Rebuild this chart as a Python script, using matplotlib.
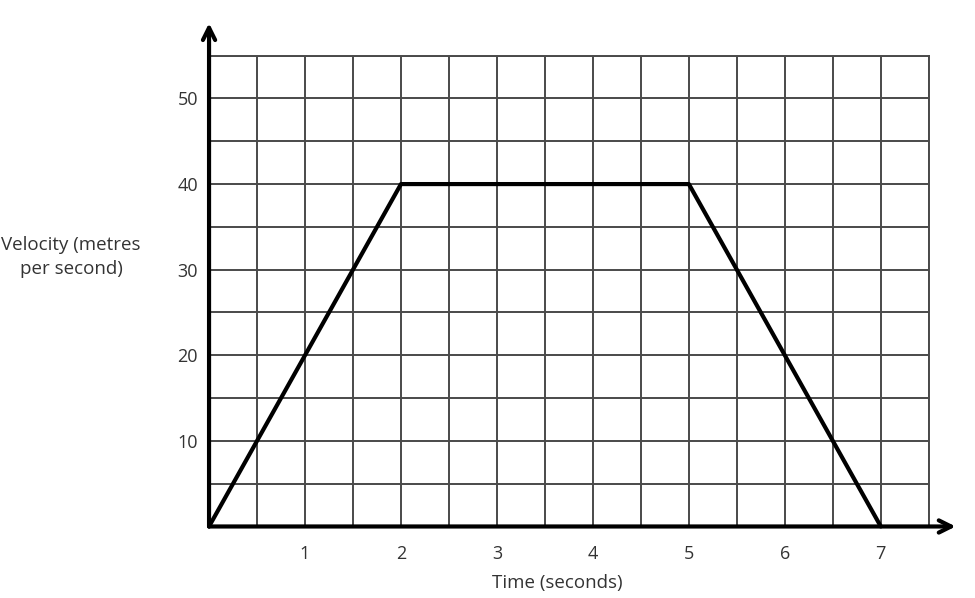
import matplotlib.pyplot as plt
from matplotlib.ticker import MultipleLocator

# velocity-time data
time_s = [0, 2, 5, 7]
velocity = [0, 40, 40, 0]

x_ticks = [1, 2, 3, 4, 5, 6, 7]
y_ticks = [10, 20, 30, 40, 50]

plt.rcParams['font.family'] = ['Open Sans', 'DejaVu Sans']
text_col = '#333333'

fig = plt.figure(figsize=(9.75, 5.98), dpi=100)
ax = fig.add_axes([0.2144, 0.1196, 0.7382, 0.7873])

ax.set_xlim(0, 7.5)
ax.set_ylim(0, 55)

# grid every half second / 5 m/s
ax.xaxis.set_minor_locator(MultipleLocator(0.5))
ax.yaxis.set_minor_locator(MultipleLocator(5))
ax.set_xticks(x_ticks)
ax.set_yticks(y_ticks)
ax.set_xticklabels([str(v) for v in x_ticks])
ax.set_yticklabels([str(v) for v in y_ticks])
ax.grid(True, which='both', color='#4a4a4a', linewidth=1.4)
ax.tick_params(which='both', length=0, labelsize=13, colors=text_col)
ax.tick_params(axis='x', pad=13)
ax.tick_params(axis='y', pad=8)

for s in ['top', 'right']:
    ax.spines[s].set_color('#4a4a4a')
    ax.spines[s].set_linewidth(1.4)
for s in ['left', 'bottom']:
    ax.spines[s].set_visible(False)

ax.plot(time_s, velocity, color='black', linewidth=3, solid_capstyle='round', zorder=5, clip_on=False)

# axes with arrow heads
ax.annotate('', xy=(7.78, 0), xytext=(0, 0), annotation_clip=False,
            arrowprops=dict(arrowstyle='->', lw=3, color='black', mutation_scale=22, shrinkA=0, shrinkB=0))
ax.annotate('', xy=(0, 58.8), xytext=(0, 0), annotation_clip=False,
            arrowprops=dict(arrowstyle='->', lw=3, color='black', mutation_scale=22, shrinkA=0, shrinkB=0))

fig.text(557 / 975, 1 - 583 / 598, 'Time (seconds)', ha='center', va='center', fontsize=13.5, color=text_col)
fig.text(71 / 975, 1 - 257 / 598, 'Velocity (metres\nper second)', ha='center', va='center',
         fontsize=13.5, color=text_col, linespacing=1.45)

fig.savefig('out.png', dpi=100)
